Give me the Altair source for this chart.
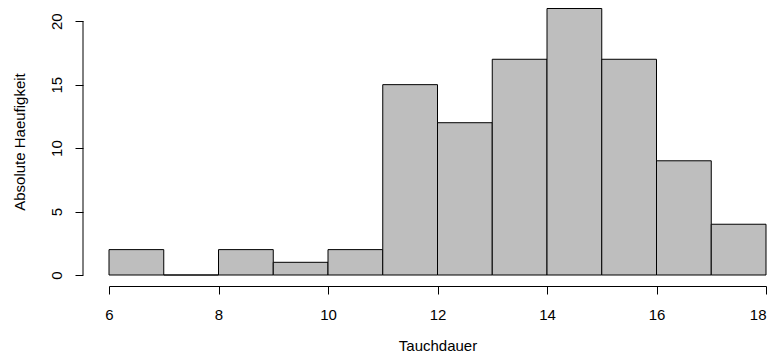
import altair as alt
import pandas as pd

bin_start = [6, 7, 8, 9, 10, 11, 12, 13, 14, 15, 16, 17]
bin_end = [7, 8, 9, 10, 11, 12, 13, 14, 15, 16, 17, 18]
counts = [2, 0, 2, 1, 2, 15, 12, 17, 21, 17, 9, 4]
x_ticks = [6, 8, 10, 12, 14, 16, 18]
y_ticks = [0, 5, 10, 15, 20]

df = pd.DataFrame({"start": bin_start, "end": bin_end, "count": counts})
axis_df = pd.DataFrame({"lo": [0], "hi": [20]})

FONT = "Liberation Sans"
FS = 15

xscale = alt.Scale(domain=[6, 18], nice=False, zero=False)
yscale = alt.Scale(domain=[0, 21.04], nice=False)

bars = alt.Chart(df).mark_rect(fill="#BEBEBE", stroke="black", strokeWidth=1).encode(
    x=alt.X("start:Q", scale=xscale, title="Tauchdauer",
            axis=alt.Axis(values=x_ticks, offset=11, tickSize=8, labelPadding=13,
                          labelAlign={"condition": {"test": "datum.value == 18", "value": "right"},
                                      "value": "center"},
                          titlePadding=16, domainColor="black", tickColor="black",
                          labelColor="black", titleColor="black", grid=False,
                          labelFont=FONT, titleFont=FONT, labelFontSize=FS,
                          titleFontSize=FS, titleFontWeight="normal")),
    x2="end:Q",
    y=alt.Y("count:Q", scale=yscale, title="Absolute Haeufigkeit",
            axis=alt.Axis(values=y_ticks, offset=26, tickSize=8, labelPadding=11,
                          labelAngle=270, labelAlign="center", labelBaseline="bottom",
                          titlePadding=22, domain=False, tickColor="black",
                          labelColor="black", titleColor="black", grid=False,
                          labelFont=FONT, titleFont=FONT, labelFontSize=FS,
                          titleFontSize=FS, titleFontWeight="normal")),
    y2=alt.datum(0),
)

yline = alt.Chart(axis_df).mark_rule(color="black", strokeWidth=1).encode(
    x=alt.value(-26),
    y=alt.Y("lo:Q", scale=yscale),
    y2="hi:Q",
)

chart = alt.layer(bars, yline).properties(
    width=657, height=267,
    background="white",
    autosize=alt.AutoSizeParams(type="none"),
    padding={"left": 101, "top": 0, "right": 1, "bottom": 77},
).configure_view(stroke="transparent", strokeWidth=0)

chart.save("out.html", embed_options={"renderer": "svg", "actions": False})
